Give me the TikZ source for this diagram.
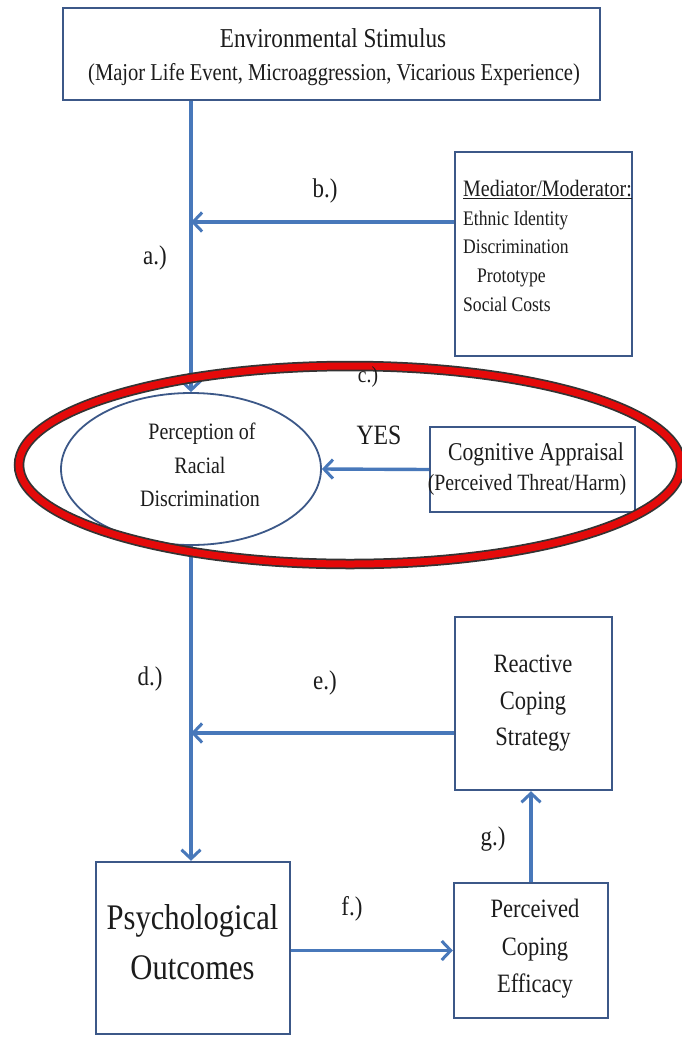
\documentclass[tikz,border=0pt]{standalone}
\usepackage{fontspec}
\setmainfont{Liberation Serif}[FakeStretch=0.85]
\usetikzlibrary{arrows.meta,calc,shapes.geometric}
\definecolor{flow}{RGB}{72,120,186}
\definecolor{frame}{RGB}{60,88,136}
\definecolor{ink}{RGB}{28,28,28}
\definecolor{ring}{RGB}{228,10,10}
\newcommand\fsz[1]{\fontsize{#1}{#1}\selectfont}
\begin{document}
\begin{tikzpicture}[x=1pt,y=-1pt,
  box/.style={draw=frame,line width=2.4pt,rectangle,inner sep=0pt},
  txt/.style={inner sep=0pt,text height=.66em,text depth=.18em,text=ink},
  link/.style={draw=flow,line width=3.4pt,
    -{Straight Barb[length=9pt,width=19pt,line width=3pt]}},
]
\fill[white] (0,0) rectangle (682,1037);
\useasboundingbox (0,0) rectangle (682,1037);

% boxes
\node[box,minimum width=537pt,minimum height=92pt]  (stim)  at (331.5,54) {};
\node[box,minimum width=177pt,minimum height=204pt] (med)   at (543.5,254) {};
\node[draw=frame,line width=1.8pt,ellipse,inner sep=0pt,
      minimum width=260pt,minimum height=152pt]     (percep) at (191,469) {};
\node[box,minimum width=205pt,minimum height=85pt]  (cog)   at (532.5,469.5) {};
\node[box,minimum width=157pt,minimum height=173pt] (react) at (533.5,703.5) {};
\node[box,minimum width=194pt,minimum height=172pt] (psych) at (193,948) {};
\node[box,minimum width=154pt,minimum height=135pt] (eff)   at (531,950.5) {};

% junctions on the main flow line
\coordinate (bjoin) at (191,222);
\coordinate (ejoin) at (191,733);

% connectors
\draw[link] (stim.south -| percep.north) -- (percep.north);
\draw[link] ([yshift=32pt]med.west) -- (bjoin);
\draw[link] (cog.west) -- (percep.east);
\draw[link] (percep.south) -- (percep.south |- psych.north);
\draw[link] ([yshift=-29.5pt]react.west) -- (ejoin);
\draw[link] (eff.west -| psych.east) -- (eff.west);
\draw[link] (eff.north) -- (eff.north |- react.south);

% highlight ring
\draw[black!80,line width=10.5pt] (350,465) ellipse [x radius=331, y radius=99];
\draw[ring,line width=7pt] (350,465) ellipse [x radius=331, y radius=99];

% texts
\node[txt,font=\fsz{27.3}] (t1) at (333,45) {Environmental Stimulus};
\node[txt,font=\fsz{24.2}] (t2) at (334,78) {(Major Life Event, Microaggression, Vicarious Experience)};

\node[txt,font=\fsz{23.5},anchor=west] (m0) at (463,194) {\underline{Mediator/Moderator:}};
\node[txt,font=\fsz{20.7},anchor=west] (m1) at (463,223) {Ethnic Identity};
\node[txt,font=\fsz{20.7},anchor=west] (m2) at (463,251) {Discrimination};
\node[txt,font=\fsz{20.7},anchor=west] (m3) at (477,280) {Prototype};
\node[txt,font=\fsz{20.7},anchor=west] (m4) at (463,309) {Social Costs};

\node[txt,font=\fsz{23.5}] (p1) at (202,437) {Perception of};
\node[txt,font=\fsz{23.5}] (p2) at (200,471) {Racial};
\node[txt,font=\fsz{23.5}] (p3) at (200,504) {Discrimination};

\node[txt,font=\fsz{25.6}] (c1) at (536,458) {Cognitive Appraisal};
\node[txt,font=\fsz{23.3}] (c2) at (527,488) {(Perceived Threat/Harm)};

\node[txt,font=\fsz{26.5}] (r1) at (533,670) {Reactive};
\node[txt,font=\fsz{26.5}] (r2) at (533,707) {Coping};
\node[txt,font=\fsz{26.5}] (r3) at (533,743) {Strategy};

\node[txt,font=\fsz{36}] (o1) at (192.5,927) {Psychological};
\node[txt,font=\fsz{36}] (o2) at (192.5,977) {Outcomes};

\node[txt,font=\fsz{26.5}] (e1) at (535,915) {Perceived};
\node[txt,font=\fsz{26.5}] (e2) at (535,953) {Coping};
\node[txt,font=\fsz{26.5}] (e3) at (535,990) {Efficacy};

% path labels
\node[txt,font=\fsz{27}] (la) at (155,262) {a.)};
\node[txt,font=\fsz{27}] (lb) at (325,195) {b.)};
\node[txt,font=\fsz{23}] (lc) at (368,380) {c.)};
\node[txt,font=\fsz{28}] (ly) at (379,442) {YES};
\node[txt,font=\fsz{27}] (ld) at (150,683) {d.)};
\node[txt,font=\fsz{27}] (le) at (325,687) {e.)};
\node[txt,font=\fsz{27}] (lf) at (352,913) {f.)};
\node[txt,font=\fsz{27}] (lg) at (493,843) {g.)};
\end{tikzpicture}
\end{document}
